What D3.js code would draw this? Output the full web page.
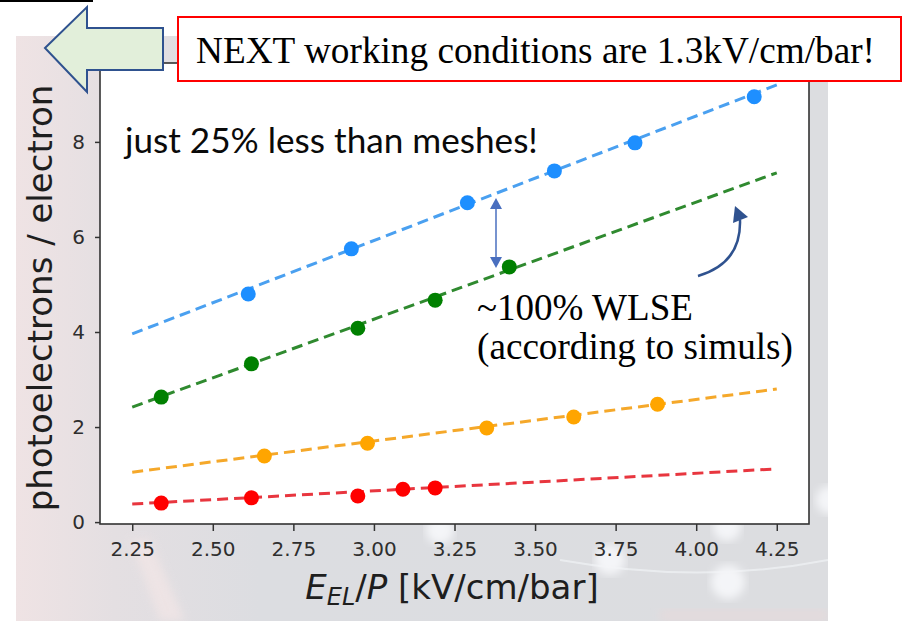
<!DOCTYPE html>
<html>
<head>
<meta charset="utf-8">
<script src="https://cdn.jsdelivr.net/npm/d3@7"></script>
<style>
  body { margin: 0; background: #fff; }
  svg { display: block; }
</style>
</head>
<body>
<div id="chart"></div>
<script>
// data
const blueX   = [2.61, 2.93, 3.29, 3.56, 3.81, 4.18];
const blueY   = [4.80, 5.75, 6.72, 7.39, 7.98, 8.95];
const greenX  = [2.34, 2.62, 2.95, 3.19, 3.42];
const greenY  = [2.63, 3.33, 4.08, 4.67, 5.37];
const orangeX = [2.66, 2.98, 3.35, 3.62, 3.88];
const orangeY = [1.39, 1.66, 1.98, 2.21, 2.48];
const redX    = [2.34, 2.62, 2.95, 3.09, 3.19];
const redY    = [0.40, 0.51, 0.55, 0.69, 0.72];

// fitted lines: value at 2.25 and at 4.25
const fitX      = [2.25, 4.25];
const blueFit   = [3.96, 9.20];
const greenFit  = [2.42, 7.35];
const orangeFit = [1.05, 2.80];
const redFit    = [0.38, 1.12];

const xTicks = [2.25, 2.50, 2.75, 3.00, 3.25, 3.50, 3.75, 4.00, 4.25];
const yTicks = [0, 2, 4, 6, 8];

const series = [
  {x: redX,    y: redY,    fit: redFit,    line: "#e8363f", dot: "#ff0000"},
  {x: orangeX, y: orangeY, fit: orangeFit, line: "#f5a82a", dot: "#ffa500"},
  {x: greenX,  y: greenY,  fit: greenFit,  line: "#2f8a2f", dot: "#008000"},
  {x: blueX,   y: blueY,   fit: blueFit,   line: "#4aa0f0", dot: "#1e8fff"}
];

const W = 902, H = 621;
const svg = d3.select("#chart").append("svg").attr("width", W).attr("height", H);
const defs = svg.append("defs");

// slide background behind the plot
const grad = defs.append("linearGradient").attr("id", "bg").attr("x1", 0).attr("x2", 1).attr("y1", 0).attr("y2", 0);
grad.append("stop").attr("offset", "0").attr("stop-color", "#efe3e4");
grad.append("stop").attr("offset", "0.12").attr("stop-color", "#e4dfe2");
grad.append("stop").attr("offset", "0.3").attr("stop-color", "#dcdde1");
grad.append("stop").attr("offset", "1").attr("stop-color", "#dcdde0");
defs.append("filter").attr("id", "blur").append("feGaussianBlur").attr("stdDeviation", 4);
defs.append("clipPath").attr("id", "slide")
  .append("rect").attr("x", 16).attr("y", 36).attr("width", 812).attr("height", 585);

const bg = svg.append("g").attr("clip-path", "url(#slide)");
bg.append("rect").attr("x", 16).attr("y", 36).attr("width", 812).attr("height", 585).attr("fill", "url(#bg)");
bg.append("path").attr("d", "M 130 540 L 160 621 L 185 621 L 150 540 Z")
  .attr("fill", "#f3e6e6").attr("opacity", 0.7).attr("filter", "url(#blur)");
bg.append("path").attr("d", "M 560 560 Q 700 585 828 560")
  .attr("fill", "none").attr("stroke", "#eef0f3").attr("stroke-width", 2).attr("opacity", 0.8);
bg.append("rect").attr("x", 660).attr("y", 610).attr("width", 168).attr("height", 11)
  .attr("fill", "#e4dadc").attr("filter", "url(#blur)");
[[610, 560, 15], [728, 582, 17], [440, 530, 14], [727, 527, 14], [830, 500, 14]].forEach(c => {
  bg.append("circle").attr("cx", c[0]).attr("cy", c[1]).attr("r", c[2])
    .attr("fill", "#f4f5f8").attr("filter", "url(#blur)");
});

// plot
const x = d3.scaleLinear().domain([2.15, 4.35]).range([100, 809]);
const y = d3.scaleLinear().domain([-0.04, 9.66]).range([524, 63]);

svg.append("rect").attr("x", 100).attr("y", 63).attr("width", 709).attr("height", 461).attr("fill", "#fff");

const line = d3.line().x(d => x(d[0])).y(d => y(d[1]));
series.forEach(s => {
  svg.append("path")
    .datum(fitX.map((v, i) => [v, s.fit[i]]))
    .attr("d", line)
    .attr("fill", "none")
    .attr("stroke", s.line)
    .attr("stroke-width", 3)
    .attr("stroke-dasharray", "11,6");
  svg.selectAll(null)
    .data(s.x.map((v, i) => [v, s.y[i]]))
    .enter().append("circle")
      .attr("cx", d => x(d[0]))
      .attr("cy", d => y(d[1]))
      .attr("r", 7.5)
      .attr("fill", s.dot);
});

// axes
const xAxis = svg.append("g")
  .attr("transform", "translate(0,524)")
  .call(d3.axisBottom(x).tickValues(xTicks).tickFormat(d3.format(".2f")).tickSize(7).tickPadding(11));
const yAxis = svg.append("g")
  .attr("transform", "translate(100,0)")
  .call(d3.axisLeft(y).tickValues(yTicks).tickFormat(d3.format("d")).tickSize(5).tickPadding(10));
[xAxis, yAxis].forEach(a => {
  a.select(".domain").remove();
  a.selectAll(".tick line").attr("stroke", "#333").attr("stroke-width", 1.5);
  a.selectAll(".tick text").attr("fill", "#2e2e2e")
    .style("font-family", "DejaVu Sans").style("font-size", "20px");
});
svg.append("rect").attr("x", 100).attr("y", 63).attr("width", 709).attr("height", 461)
  .attr("fill", "none").attr("stroke", "#333").attr("stroke-width", 1.6);

// axis labels
svg.append("text")
  .attr("transform", "translate(52,298) rotate(-90)")
  .attr("text-anchor", "middle")
  .style("font-family", "DejaVu Sans").style("font-size", "34px")
  .attr("fill", "#1e1e1e")
  .text("photoelectrons / electron");

const xl = svg.append("text")
  .attr("x", 452).attr("y", 599)
  .attr("text-anchor", "middle")
  .style("font-family", "DejaVu Sans").style("font-size", "34px")
  .attr("fill", "#1e1e1e");
xl.append("tspan").style("font-style", "italic").text("E");
xl.append("tspan").style("font-style", "italic").style("font-size", "24px").attr("dy", 6).text("EL");
xl.append("tspan").attr("dy", -6).text("/");
xl.append("tspan").style("font-style", "italic").text("P");
xl.append("tspan").text(" [kV/cm/bar]");

function fitWidth(t, target) {
  const fs = parseFloat(t.style("font-size"));
  const w = t.node().getComputedTextLength();
  t.style("font-size", (fs * target / w) + "px");
}

// annotations
const note = svg.append("text").attr("x", 125).attr("y", 153)
  .style("font-family", "Lato").style("font-size", "28px").attr("fill", "#0a0a0a")
  .text("just 25% less than meshes!");
fitWidth(note, 413);

svg.append("rect").attr("x", 178).attr("y", 17).attr("width", 723).attr("height", 64)
  .attr("fill", "#fff").attr("stroke", "#ff0000").attr("stroke-width", 2);
const title = svg.append("text").attr("x", 196).attr("y", 63)
  .style("font-family", "Liberation Serif").style("font-size", "32px").attr("fill", "#000")
  .text("NEXT working conditions are 1.3kV/cm/bar!");
fitWidth(title, 679);

const w1 = svg.append("text").attr("x", 477).attr("y", 320)
  .style("font-family", "Liberation Serif").style("font-size", "34px").attr("fill", "#000")
  .text("~100% WLSE");
fitWidth(w1, 216);
const w2 = svg.append("text").attr("x", 477).attr("y", 359)
  .style("font-family", "Liberation Serif").style("font-size", "34px").attr("fill", "#000")
  .text("(according to simuls)");
fitWidth(w2, 316);

// big green arrow top left
svg.append("rect").attr("x", 0).attr("y", 0).attr("width", 93).attr("height", 2).attr("fill", "#000");
svg.append("polygon")
  .attr("points", "45,48 87,7 87,28 163,28 163,70 87,70 87,92")
  .attr("fill", "#e2efda").attr("stroke", "#2f528f").attr("stroke-width", 2);

// double arrow between blue and green
svg.append("line").attr("x1", 496).attr("x2", 496).attr("y1", 205).attr("y2", 261)
  .attr("stroke", "#4a6fbf").attr("stroke-width", 1.5);
svg.append("polygon").attr("points", "496,198 490,209 502,209").attr("fill", "#4a6fbf");
svg.append("polygon").attr("points", "496,268 490,257 502,257").attr("fill", "#4a6fbf");

// curved arrow
svg.append("path").attr("d", "M 698 276 C 725 268 741 250 740 220")
  .attr("fill", "none").attr("stroke", "#2f528f").attr("stroke-width", 2.5);
svg.append("polygon").attr("points", "735,206 748,217 733,223").attr("fill", "#2f528f");
</script>
</body>
</html>
